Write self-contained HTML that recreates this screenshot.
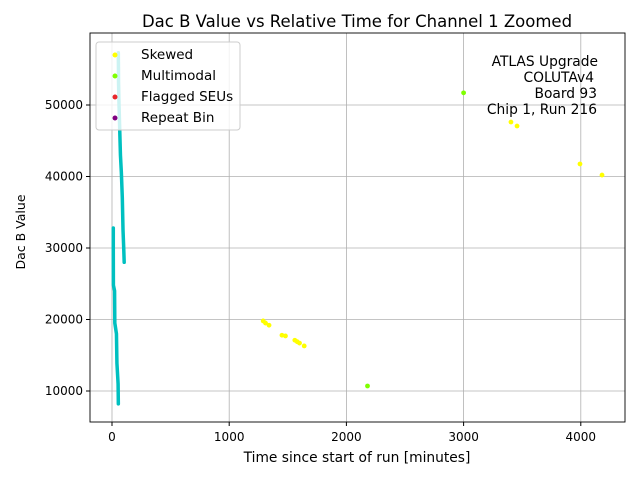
<!DOCTYPE html>
<html><head><meta charset="utf-8"><style>
body{margin:0;background:#fff}
svg{display:block;font-family:"DejaVu Sans","Liberation Sans",sans-serif}
</style></head><body>
<svg id="chart" width="640" height="480" xmlns="http://www.w3.org/2000/svg">
<text x="357" y="27" font-size="16.5" text-anchor="middle">Dac B Value vs Relative Time for Channel 1 Zoomed</text>
<g id="grid"></g>
<g id="marks"></g>
<rect x="90" y="33" width="535" height="389" fill="none" stroke="#000" stroke-width="0.9"/>
<g id="ticks"></g>
<text x="357" y="462" font-size="13.8" text-anchor="middle">Time since start of run [minutes]</text>
<text x="25" y="232" font-size="12.5" text-anchor="middle" transform="rotate(-90 25 232)">Dac B Value</text>
<g font-size="13.8" text-anchor="end">
<text x="598" y="66">ATLAS Upgrade</text>
<text x="594" y="82">COLUTAv4</text>
<text x="597" y="98">Board 93</text>
<text x="597" y="114">Chip 1, Run 216</text>
</g>
<g>
<rect x="96" y="42" width="144" height="88" rx="3" fill="#fff" fill-opacity="0.8" stroke="#ccc"/>
<g><circle cx="115" cy="55" r="2.5" fill="#ffff00"/><text x="141" y="59" font-size="13.5">Skewed</text></g>
<g><circle cx="115" cy="76" r="2.5" fill="#7fff00"/><text x="141" y="80" font-size="13.5">Multimodal</text></g>
<g><circle cx="115" cy="97" r="2.5" fill="#e8282b"/><text x="141" y="101" font-size="13.5">Flagged SEUs</text></g>
<g><circle cx="115" cy="118" r="2.5" fill="#800080"/><text x="141" y="122" font-size="13.5">Repeat Bin</text></g>
</g>
</svg>
<script>
const xTicks=[0,1000,2000,3000,4000];
const yTicks=[10000,20000,30000,40000,50000];
const traceATime=[11,11,12,22,24,38,42,52,54];
const traceAValue=[32800,30000,24800,24000,19500,18000,13900,11000,8200];
const traceBTime=[54,56,60,66,72,80,88,94,100,104];
const traceBValue=[57300,53000,50000,46500,43000,40500,37000,32500,30000,28000];
const skewedTime=[1290,1310,1340,1450,1480,1560,1580,1600,1640,3404,3456,3993,4181];
const skewedValue=[19800,19500,19200,17800,17700,17100,16900,16700,16300,47620,47060,41750,40200];
const multiTime=[2180,3000];
const multiValue=[10700,51700];
const NS='http://www.w3.org/2000/svg';
function X(t){return 112+t*0.1172;}
function Y(v){return 391-(v-10000)*0.00715;}
function mk(tag,a,p){const e=document.createElementNS(NS,tag);for(const k in a)e.setAttribute(k,a[k]);p.appendChild(e);return e;}
const grid=document.getElementById('grid'),ticks=document.getElementById('ticks'),marks=document.getElementById('marks');
xTicks.forEach(t=>{const x=X(t);
const g=mk('line',{x1:x,x2:x,y1:33,y2:422,stroke:'#b0b0b0','stroke-width':0.8},grid);


mk('line',{x1:x,x2:x,y1:422,y2:426,stroke:'#000'},ticks);
const tx=mk('text',{x:x,y:441,'font-size':12,'text-anchor':'middle'},ticks);tx.textContent=t;

});
yTicks.forEach(v=>{const y=Y(v);
const g=mk('line',{x1:90,x2:625,y1:y,y2:y,stroke:'#b0b0b0','stroke-width':0.8},grid);


mk('line',{x1:86,x2:90,y1:y,y2:y,stroke:'#000'},ticks);
const tx=mk('text',{x:83,y:y+4,'font-size':12,'text-anchor':'end'},ticks);tx.textContent=v;

});
function trace(ts,vs,name){const p=mk('polyline',{points:ts.map((t,i)=>X(t)+','+Y(vs[i])).join(' '),fill:'none',stroke:'#00c0c0','stroke-width':3.5,'stroke-linecap':'round','stroke-linejoin':'round'},marks);

}
trace(traceATime,traceAValue,'trace-segment-a');
trace(traceBTime,traceBValue,'trace-segment-b');
skewedTime.forEach((t,i)=>{const c=mk('circle',{cx:X(t),cy:Y(skewedValue[i]),r:2.4,fill:'#ffff00'},marks);

});
multiTime.forEach((t,i)=>{const c=mk('circle',{cx:X(t),cy:Y(multiValue[i]),r:2.4,fill:'#7fff00'},marks);

});
</script>
</body></html>
